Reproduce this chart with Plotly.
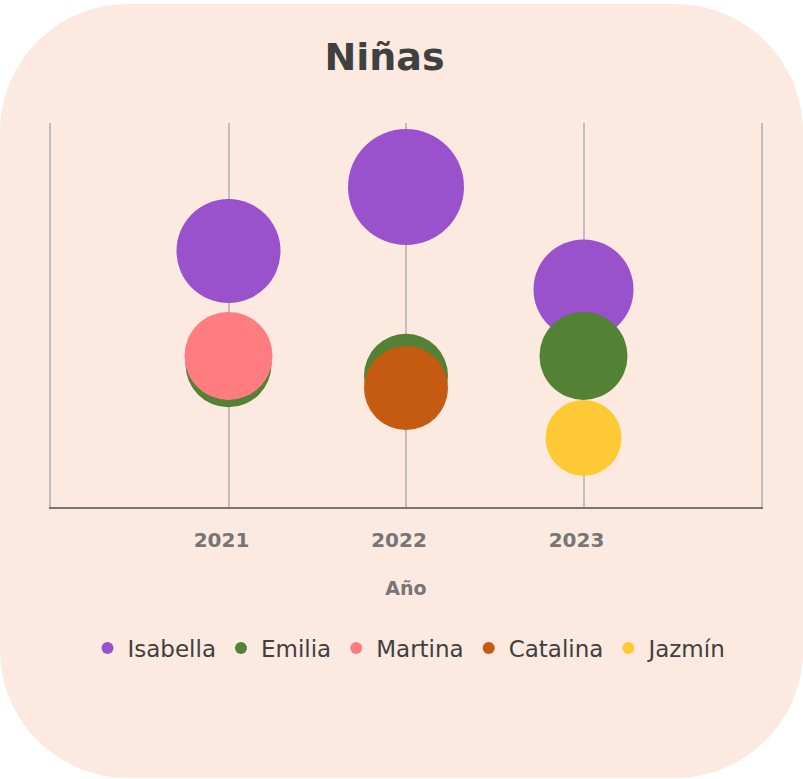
import plotly.graph_objects as go

# Data
names = ["Isabella", "Emilia", "Martina", "Catalina", "Jazmín"]
colors = ["#9A52CC", "#538135", "#FF7C80", "#C55A11", "#FFC935"]
years = {
    "Isabella": [2021, 2022, 2023],
    "Emilia": [2021, 2022, 2023],
    "Martina": [2021],
    "Catalina": [2022],
    "Jazmín": [2023],
}
values = {
    "Isabella": [40.0, 50.0, 34.0],
    "Emilia": [22.3, 20.5, 23.6],
    "Martina": [23.6],
    "Catalina": [18.6],
    "Jazmín": [10.8],
}
bubble = {
    "Isabella": [52, 58, 50],
    "Emilia": [43, 42, 44],
    "Martina": [44],
    "Catalina": [42],
    "Jazmín": [38],
}
tick_years = [2021, 2022, 2023]

W, H = 803, 779
L, R, T, B = 51, 42, 123, 272
pw, ph = W - L - R, H - T - B

fig = go.Figure()
for n, c in zip(names, colors):
    fig.add_trace(go.Scatter(
        x=years[n], y=values[n], mode="markers", name=n,
        marker=dict(size=bubble[n], sizemode="diameter", sizeref=0.5,
                    color=c, opacity=1, line=dict(width=0)),
    ))

def P(px, py):
    return (px - L) / pw, (H - B - py) / ph

def fmt(px, py):
    a, b = P(px, py)
    return f"{a:.5f},{b:.5f}"

# rounded background
x0, y0, x1, y1, r = 0, 4, 803, 778, 128
k = 0.5523 * r
path = (
    f"M{fmt(x0 + r, y0)} L{fmt(x1 - r, y0)} "
    f"C{fmt(x1 - r + k, y0)} {fmt(x1, y0 + r - k)} {fmt(x1, y0 + r)} "
    f"L{fmt(x1, y1 - r)} "
    f"C{fmt(x1, y1 - r + k)} {fmt(x1 - r + k, y1)} {fmt(x1 - r, y1)} "
    f"L{fmt(x0 + r, y1)} "
    f"C{fmt(x0 + r - k, y1)} {fmt(x0, y1 - r + k)} {fmt(x0, y1 - r)} "
    f"L{fmt(x0, y0 + r)} "
    f"C{fmt(x0, y0 + r - k)} {fmt(x0 + r - k, y0)} {fmt(x0 + r, y0)} Z"
)
fig.add_shape(type="path", xref="paper", yref="paper", path=path,
              fillcolor="#FCEAE0", line=dict(width=0), layer="below")

fig.update_layout(
    width=W, height=H,
    margin=dict(l=L, r=R, t=T, b=B),
    paper_bgcolor="white", plot_bgcolor="rgba(0,0,0,0)",
    font=dict(family="DejaVu Sans", color="#404040"),
    title=dict(text="<b>Niñas</b>", x=384.5 / W, xanchor="center",
               y=1 - 57 / H, yanchor="middle",
               font=dict(size=38, color="#404040", family="DejaVu Sans")),
    showlegend=True,
    legend=dict(orientation="h", x=(410 - L) / pw, xanchor="center",
                y=(H - B - 648) / ph, yanchor="middle",
                font=dict(size=23, color="#404040", family="DejaVu Sans"),
                bgcolor="rgba(0,0,0,0)", itemsizing="constant",
                itemwidth=30, tracegroupgap=0),
    xaxis=dict(range=[2020, 2024], tickvals=tick_years,
               ticktext=[f"<b>{t}</b>" for t in tick_years],
               showgrid=True, gridcolor="#BFBFBF", gridwidth=1.5,
               showline=True, linecolor="#767676", linewidth=2,
               ticks="", ticklabelstandoff=14, ticklabelshift=-7,
               zeroline=False,
               tickfont=dict(size=20, color="#767676", family="DejaVu Sans"),
               title=dict(text="<b>Año</b>", standoff=31,
                          font=dict(size=19, color="#767676", family="DejaVu Sans"))),
    yaxis=dict(range=[0, 60], showticklabels=False, showgrid=False,
               zeroline=False, showline=True, linecolor="#BFBFBF",
               linewidth=1.5, mirror=True, ticks=""),
)

fig.write_html("out.html", config={"displayModeBar": False},
               post_script="document.body.style.margin='0';")
